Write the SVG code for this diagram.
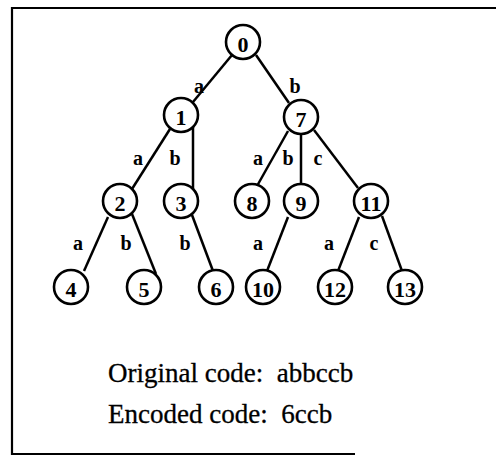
<svg xmlns="http://www.w3.org/2000/svg" width="496" height="464" viewBox="0 0 496 464">
<style>
.frame{stroke:#000;stroke-width:2.2;fill:none}
.node circle{fill:#fff;stroke:#000;stroke-width:2.6}
.node text{font-family:"Liberation Serif","Times New Roman",serif;font-weight:bold;font-size:22px;text-anchor:middle;fill:#000}
#edges line{stroke:#000;stroke-width:2.5}
.lbl{font-family:"Liberation Serif","Times New Roman",serif;font-weight:bold;font-size:20px;text-anchor:middle;fill:#000}
.code{font-family:"Liberation Serif","Times New Roman",serif;font-size:27px;fill:#000;stroke:#000;stroke-width:0.3;white-space:pre}
</style>
<rect width="496" height="464" fill="#fff"/>
<g id="frame">
<polyline class="frame" points="496,8 12,8 12,454 355,454"/>
</g>
<g id="edges">
<line x1="232" y1="55" x2="193" y2="102"/>
<line x1="256" y1="55" x2="289" y2="103"/>
<line x1="170" y1="129" x2="132" y2="189"/>
<line x1="193" y1="127" x2="193" y2="189"/>
<line x1="288" y1="131" x2="257" y2="186"/>
<line x1="301" y1="121" x2="301" y2="184"/>
<line x1="314" y1="130" x2="358" y2="188"/>
<line x1="108" y1="217" x2="84" y2="271"/>
<line x1="132" y1="214" x2="156" y2="274"/>
<line x1="192" y1="215" x2="213" y2="271"/>
<line x1="288" y1="217" x2="267" y2="271"/>
<line x1="359" y1="217" x2="338" y2="271"/>
<line x1="382" y1="216" x2="402" y2="271"/>
</g>
<g id="edge-labels">
<text class="lbl" x="199" y="93">a</text>
<text class="lbl" x="295" y="93">b</text>
<text class="lbl" x="138" y="165">a</text>
<text class="lbl" x="175" y="165">b</text>
<text class="lbl" x="258" y="165">a</text>
<text class="lbl" x="288" y="165">b</text>
<text class="lbl" x="318" y="165">c</text>
<text class="lbl" x="78" y="250">a</text>
<text class="lbl" x="126" y="250">b</text>
<text class="lbl" x="185" y="250">b</text>
<text class="lbl" x="258" y="250">a</text>
<text class="lbl" x="329" y="250">a</text>
<text class="lbl" x="374" y="250">c</text>
</g>
<g id="n0" class="node"><circle cx="243" cy="42" r="17"/><text x="243" y="52">0</text></g>
<g id="n1" class="node"><circle cx="181" cy="115" r="17"/><text x="181" y="125">1</text></g>
<g id="n7" class="node"><circle cx="301" cy="117" r="17"/><text x="301" y="127">7</text></g>
<g id="n2" class="node"><circle cx="120" cy="201" r="17"/><text x="120" y="211">2</text></g>
<g id="n3" class="node"><circle cx="181" cy="201" r="17"/><text x="181" y="211">3</text></g>
<g id="n8" class="node"><circle cx="252" cy="201" r="17"/><text x="252" y="211">8</text></g>
<g id="n9" class="node"><circle cx="301" cy="201" r="17"/><text x="301" y="211">9</text></g>
<g id="n11" class="node"><circle cx="371" cy="201" r="17"/><text x="371" y="211">11</text></g>
<g id="n4" class="node"><circle cx="71" cy="287" r="17"/><text x="71" y="297">4</text></g>
<g id="n5" class="node"><circle cx="144" cy="287" r="17"/><text x="144" y="297">5</text></g>
<g id="n6" class="node"><circle cx="216" cy="287" r="17"/><text x="216" y="297">6</text></g>
<g id="n10" class="node"><circle cx="263" cy="287" r="17"/><text x="263" y="297">10</text></g>
<g id="n12" class="node"><circle cx="335" cy="287" r="17"/><text x="335" y="297">12</text></g>
<g id="n13" class="node"><circle cx="405" cy="287" r="17"/><text x="405" y="297">13</text></g>
<g id="caption">
<text class="code" x="108" y="382" xml:space="preserve">Original code:  abbccb</text>
<text class="code" x="108" y="423" xml:space="preserve">Encoded code:  6ccb</text>
</g>
</svg>
